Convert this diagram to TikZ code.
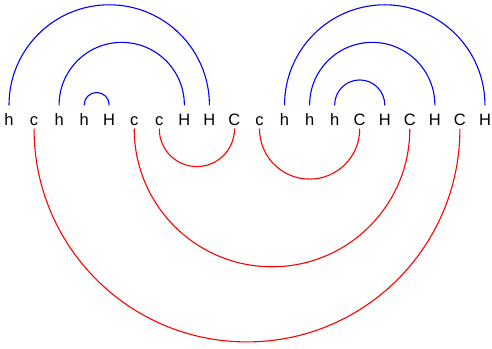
\documentclass[tikz,border=0pt]{standalone}
\usepackage{fontspec}
\setmainfont{Liberation Sans}
\begin{document}
\begin{tikzpicture}[x=1pt,y=1pt,line cap=round,line join=round]
	\useasboundingbox (0,0) rectangle (492,348);
	\def\a{25.05}
	\tikzset{res/.style={anchor=base,inner sep=0pt,outer sep=0pt,text height=21pt,text depth=3pt,font=\fontsize{16.5}{18}\selectfont},
		hbond/.style={blue,line width=1.1pt},
		cbond/.style={red,line width=1.1pt}}
	\foreach \t [count=\i from 0] in {h,c,h,h,H,c,c,H,H,C,c,h,h,h,C,H,C,H,C,H}{\node[res] (l\i) at (9+\i*\a,222) {\t};}
	\foreach \i/\j in {0/8,2/7,3/4,11/19,12/17,13/15}{\draw[hbond] (l\i.north) arc[start angle=180,end angle=0,radius=(\j-\i)*\a/2];}
	\foreach \i/\j in {1/18,5/16,6/9,10/14}{\draw[cbond] (l\i.south) arc[start angle=180,end angle=360,radius=(\j-\i)*\a/2];}
\end{tikzpicture}
\end{document}
